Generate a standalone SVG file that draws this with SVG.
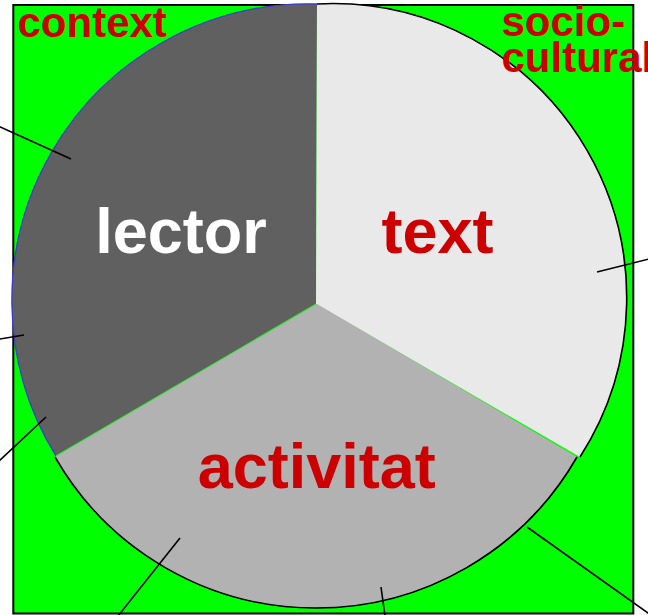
<svg xmlns="http://www.w3.org/2000/svg" width="648" height="615" viewBox="0 0 648 615">
<style>
.lbl{font-family:"Liberation Sans",Arial,sans-serif;font-weight:bold;}
.big{font-size:63px;text-anchor:middle;}
.small{font-size:42px;fill:#cc0000;}
.arc{fill:none;stroke:#000;stroke-width:1.6;}
.ptr{stroke:#000;stroke-width:1.6;fill:none;}
</style>
<rect id="background" x="13.3" y="5" width="620" height="608.5" fill="#00ff00" stroke="#000" stroke-width="2"/>
<g id="lector">
<path d="M316,304 L317,4 A296.5,296.5 0 0 0 56,456 Z" fill="#606060"/>
<path d="M317,4 A296.5,296.5 0 0 0 56,456" fill="none" stroke="#3c3cd0" stroke-width="1.3"/>
<line x1="316" y1="304" x2="56" y2="456" stroke="#22ee22" stroke-width="1.2"/>
<text class="lbl big" x="181" y="253" fill="#ffffff">lector</text>
</g>
<g id="text">
<path d="M316,304 L317,4 A294.3,294.3 0 0 1 580,457 Z" fill="#e9e9e9"/>
<path class="arc" d="M317,4 A294.3,294.3 0 0 1 580,457"/>
<text class="lbl big" x="437.5" y="253" fill="#cc0000">text</text>
</g>
<g id="activitat">
<path d="M317,304 L55,457 A301,301 0 0 0 577,457 Z" fill="#b2b2b2"/>
<path class="arc" d="M55,457 A301,301 0 0 0 577,457"/>
<text class="lbl big" x="316.7" y="488" fill="#cc0000">activitat</text>
</g>
<g id="context">
<text class="lbl small" x="17.5" y="37">context</text>
</g>
<g id="sociocultural">
<text class="lbl small" x="501.5" y="36"><tspan x="501.5" y="36">socio-</tspan><tspan x="501.5" y="71.5">cultural</tspan></text>
</g>
<g id="connectors">
<line class="ptr" x1="-2" y1="126" x2="71" y2="159"/>
<line class="ptr" x1="-2" y1="339.3" x2="24" y2="335"/>
<line class="ptr" x1="-2" y1="462" x2="46" y2="417"/>
<line class="ptr" x1="118" y1="616" x2="180" y2="538"/>
<line class="ptr" x1="381" y1="587" x2="385" y2="616"/>
<line class="ptr" x1="527" y1="527" x2="650" y2="614.5"/>
<line class="ptr" x1="597" y1="272" x2="650" y2="258.7"/>
</g>
</svg>
